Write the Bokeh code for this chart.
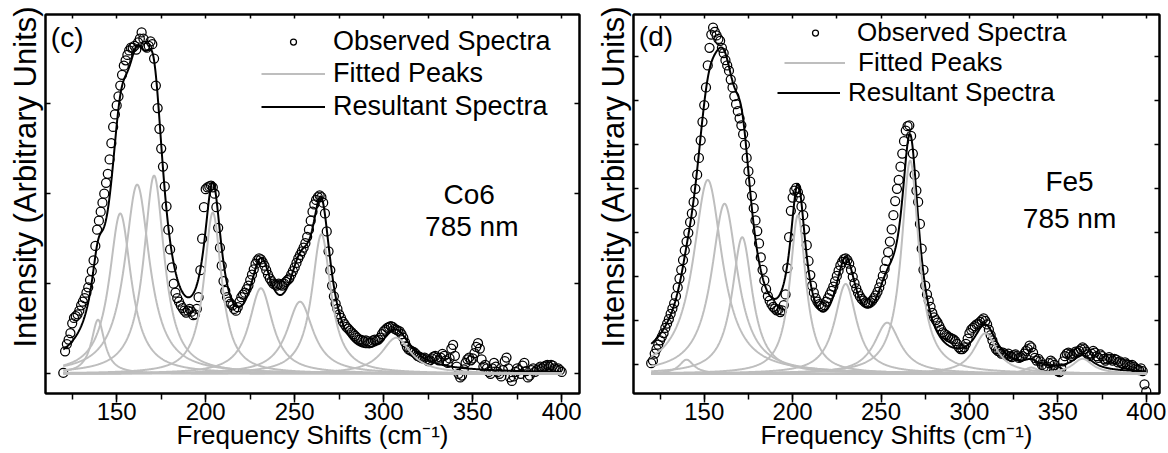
import numpy as np
from bokeh.plotting import figure
from bokeh.layouts import row
from bokeh.models import (Range1d, LinearAxis, SingleIntervalTicker, FixedTicker,
                          Label, Legend, LegendItem, Title, ColumnDataSource)
from bokeh.embed import file_html
from bokeh.resources import INLINE

FONT = "Liberation Sans"

# ---------------- data ----------------
shift = list(range(120, 401))   # cm^-1, 1 cm^-1 step

co6_observed = [
    10, 250, 330, 380, 450, 560, 620, 640, 660, 700,
    760, 800, 840, 900, 960, 1040, 1140, 1260, 1420, 1600,
    1700, 1800, 1900, 2000, 2120, 2220, 2380, 2560, 2740, 2880,
    2980, 3080, 3200, 3320, 3420, 3480, 3540, 3590, 3620, 3620,
    3640, 3600, 3680, 3720, 3790, 3720, 3640, 3620, 3640, 3690,
    3660, 3500, 3200, 2950, 2720, 2500, 2300, 2080, 1860, 1600,
    1380, 1180, 1000, 900, 840, 800, 760, 730, 700, 680,
    700, 720, 690, 650, 660, 720, 850, 1150, 1500, 1850,
    2050, 2070, 2080, 2090, 2070, 2000, 1850, 1620, 1400, 1200,
    1030, 920, 850, 800, 780, 760, 720, 700, 740, 800,
    850, 880, 900, 940, 980, 1040, 1100, 1160, 1220, 1260,
    1280, 1270, 1240, 1200, 1150, 1100, 1060, 1030, 1000, 990,
    980, 1000, 990, 980, 1000, 1020, 1040, 1060, 1100, 1140,
    1180, 1230, 1280, 1320, 1360, 1400, 1450, 1520, 1600, 1700,
    1800, 1880, 1930, 1960, 1980, 1960, 1900, 1780, 1580, 1360,
    1150, 980, 860, 780, 720, 660, 620, 580, 550, 520,
    500, 480, 460, 440, 420, 400, 380, 380, 370, 360,
    370, 360, 340, 350, 370, 380, 370, 380, 400, 440,
    470, 490, 510, 520, 530, 520, 500, 490, 480, 470,
    440, 400, 350, 300, 270, 260, 250, 240, 220, 200,
    190, 180, 170, 180, 160, 140, 150, 170, 190, 200,
    180, 150, 180, 220, 200, 150, 120, 170, 280, 320,
    200, 80, 0, -40, -20, 50, 120, 160, 180, 150,
    170, 230, 300, 340, 280, 160, 80, 100, 60, 20,
    0, 60, 120, 80, 20, 0, -30, 40, 140, 180,
    60, -40, -80, -30, 20, 60, 40, 0, 90, 120,
    30, -40, -20, 40, 60, 20, 40, 60, 80, 60,
    80, 90, 100, 80, 100, 90, 60, 50, 60, 40,
    20,
]

fe5_observed = [
    120, 150, 230, 280, 330, 380, 420, 460, 520, 570,
    620, 680, 740, 800, 880, 980, 1080, 1180, 1290, 1400,
    1500, 1600, 1720, 1820, 1950, 2100, 2260, 2450, 2650, 2860,
    3050, 3250, 3500, 3700, 3850, 3930, 3880, 3840, 3800, 3780,
    3700, 3640, 3560, 3500, 3440, 3340, 3250, 3150, 3060, 2980,
    2900, 2820, 2720, 2600, 2450, 2300, 2180, 2020, 1880, 1740,
    1620, 1480, 1320, 1180, 1060, 960, 880, 830, 790, 760,
    740, 720, 730, 700, 720, 780, 900, 1200, 1550, 1850,
    2000, 2080, 2110, 2060, 2000, 1900, 1800, 1640, 1460, 1280,
    1120, 1000, 920, 860, 820, 790, 770, 760, 780, 820,
    860, 900, 940, 990, 1050, 1110, 1170, 1230, 1270, 1300,
    1310, 1290, 1250, 1180, 1100, 1030, 970, 920, 880, 850,
    830, 810, 800, 800, 810, 830, 860, 890, 930, 980,
    1040, 1110, 1190, 1280, 1380, 1500, 1640, 1800, 1960, 2100,
    2200, 2350, 2500, 2640, 2760, 2810, 2820, 2700, 2500, 2260,
    2080, 1950, 1700, 1420, 1180, 1000, 900, 830, 760, 690,
    640, 610, 580, 540, 500, 470, 450, 440, 420, 410,
    400, 390, 370, 340, 300, 280, 280, 300, 340, 400,
    460, 500, 520, 540, 560, 570, 590, 610, 630, 600,
    560, 500, 440, 380, 320, 280, 260, 250, 230, 240,
    220, 210, 230, 200, 190, 210, 220, 200, 180, 190,
    200, 230, 260, 280, 320, 300, 240, 180, 150, 170,
    140, 100, 80, 60, 80, 120, 150, 130, 100, 60,
    30, 20, 60, 140, 200, 230, 240, 220, 200, 230,
    250, 240, 260, 280, 300, 280, 250, 220, 200, 230,
    260, 240, 200, 180, 220, 200, 170, 150, 170, 190,
    170, 150, 170, 160, 130, 140, 120, 110, 130, 110,
    100, 90, 100, 80, 60, 50, 40, 60, 30, -120,
    -200,
]

# fitted Lorentzian components: centre, height, half width
co6_peak_centers = [139.5, 152, 161.5, 171, 204, 231, 253, 265, 307]
co6_peak_heights = [600, 1780, 2100, 2200, 1790, 950, 800, 1550, 400]
co6_peak_hwhm = [4.5, 7.5, 8.5, 7, 6, 8, 9, 6.5, 10]

fe5_peak_centers = [140, 152, 161.5, 171.5, 203, 230, 253.5, 266.5, 309, 335, 364]
fe5_peak_heights = [160, 2200, 1930, 1550, 1800, 1020, 580, 2420, 460, 70, 170]
fe5_peak_hwhm = [5, 10, 9, 7, 5.5, 7.5, 9, 6, 8, 5, 7]

x_major_interval = 50
co6_y_ticks = [0, 1000, 2000, 3000]
fe5_y_ticks = [100, 600, 1100, 1600, 2100, 2600, 3100, 3600]

legend_labels = ["Observed Spectra", "Fitted Peaks", "Resultant Spectra"]
x_label = "Frequency Shifts (cm\u207b\u00b9)"
y_label = "Intensity (Arbitrary Units)"

GRAY = "#bebebe"
FIG_H = 453


def lorentz(x, c, h, g):
    return h / (1.0 + ((x - c) / g) ** 2)


def make_panel(obs, centers, heights, hwhm, yticks, xr, yr, width, bl, br,
               tag, tag_xy, sample_lines, sample_xy, leg_rows, leg_font, leg_h):
    p = figure(width=width, height=FIG_H, x_range=Range1d(*xr), y_range=Range1d(*yr),
               output_backend="svg", toolbar_location=None,
               x_axis_type=None, y_axis_type=None,
               min_border_left=bl, min_border_right=br,
               min_border_top=14, min_border_bottom=60)
    p.grid.visible = False
    p.outline_line_color = "black"
    p.outline_line_width = 2
    p.background_fill_color = "white"
    p.border_fill_color = "white"

    xfine = np.arange(120.0, 400.001, 0.25)
    comps = [lorentz(xfine, c, h, g) for c, h, g in zip(centers, heights, hwhm)]
    resultant = np.sum(comps, axis=0)

    src = ColumnDataSource(dict(x=shift, y=obs))
    r_obs = p.scatter("x", "y", source=src, marker="circle", size=9,
                      fill_color=None, line_color="black", line_width=1.25)
    r_res = p.line(xfine, resultant, line_color="black", line_width=2)
    r_pk = p.multi_line([list(xfine)] * len(comps), [list(c) for c in comps],
                        line_color=GRAY, line_width=2)

    # axes
    xb = LinearAxis(ticker=SingleIntervalTicker(interval=x_major_interval, num_minor_ticks=2),
                    axis_label=x_label)
    xb.axis_line_width = 2
    xb.major_tick_in = 0
    xb.major_tick_out = 9
    xb.minor_tick_in = 0
    xb.minor_tick_out = 6
    xb.major_tick_line_width = 1.5
    xb.minor_tick_line_width = 1.5
    xb.major_label_text_font = FONT
    xb.major_label_text_font_size = "24px"
    xb.major_label_text_color = "black"
    xb.major_label_standoff = 0
    xb.axis_label_text_font = FONT
    xb.axis_label_text_font_size = "26px"
    xb.axis_label_text_font_style = "normal"
    xb.axis_label_text_color = "black"
    xb.axis_label_standoff = -3
    p.add_layout(xb, "below")

    xt = LinearAxis(ticker=SingleIntervalTicker(interval=25, num_minor_ticks=0))
    xt.axis_line_width = 2
    xt.major_tick_in = 4
    xt.major_tick_out = 0
    xt.major_tick_line_width = 1.5
    xt.minor_tick_line_color = None
    xt.major_label_text_font_size = "1px"
    xt.major_label_text_color = None
    xt.major_label_standoff = 0
    p.add_layout(xt, "above")

    for side in ("left", "right"):
        ya = LinearAxis(ticker=FixedTicker(ticks=yticks))
        ya.axis_line_width = 2
        ya.major_tick_in = 5
        ya.major_tick_out = 0
        ya.major_tick_line_width = 1.5
        ya.minor_tick_line_color = None
        ya.major_label_text_font_size = "1px"
        ya.major_label_text_color = None
        ya.major_label_standoff = 0
        p.add_layout(ya, side)

    p.add_layout(Title(text=y_label, align="left", offset=46, standoff=4,
                       text_font=FONT, text_font_size="31px", text_font_style="normal",
                       text_color="black", vertical_align="middle"), "left")

    # annotations
    p.add_layout(Label(x=tag_xy[0], y=tag_xy[1], text=tag, text_font=FONT,
                       text_font_size="28px", text_align="left", text_baseline="middle",
                       text_color="black"))
    for txt, (sx, sy) in zip(sample_lines, sample_xy):
        p.add_layout(Label(x=sx, y=sy, text=txt, text_font=FONT, text_font_size="28px",
                           text_align="center", text_baseline="middle", text_color="black"))

    # one legend per row, so each row sits where the reference puts it
    renderers = [r_obs, r_pk, r_res]
    for lab, rend, (loc, gw, standoff) in zip(legend_labels, renderers, leg_rows):
        leg = Legend(items=[LegendItem(label=lab, renderers=[rend])], location=loc,
                     background_fill_alpha=0, border_line_color=None, padding=0,
                     margin=0, spacing=0, glyph_width=gw, glyph_height=15,
                     label_height=leg_h, label_standoff=standoff, label_text_font=FONT,
                     label_text_font_size=leg_font, label_text_color="black")
        p.add_layout(leg)
    return p


p1 = make_panel(co6_observed, co6_peak_centers, co6_peak_heights, co6_peak_hwhm,
                co6_y_ticks, (110, 410), (-219, 3989), 590, 45, 11,
                "(c)", (113, 3739), ["Co6", "785 nm"], [(348, 1989), (349.5, 1633)],
                [((216, 336), 64, 8), ((216, 304), 64, 8), ((216, 271), 64, 8)],
                "27px", 30)
p2 = make_panel(fe5_observed, fe5_peak_centers, fe5_peak_heights, fe5_peak_hwhm,
                fe5_y_ticks, (110, 407.5), (-224, 4078), 578, 43, 9,
                "(d)", (113, 3823), ["Fe5", "785 nm"], [(356.6, 2181), (356.6, 1761)],
                [((151, 345), 62, 11), ((151, 315), 61, 13), ((144, 285), 63, 8)],
                "26px", 31)

layout = row(p1, p2)
open("out.html", "w").write(file_html(layout, INLINE))
